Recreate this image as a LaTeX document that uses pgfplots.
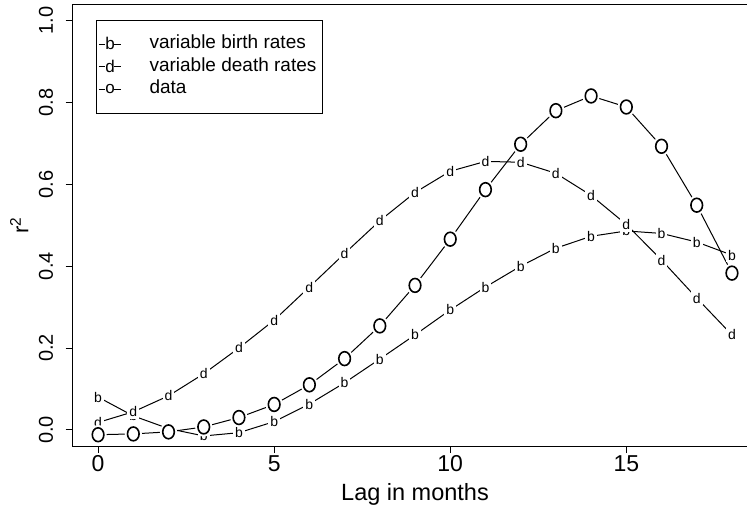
\documentclass[border=0pt]{standalone}
\usepackage{fontspec}
\setmainfont{Liberation Sans}
\usepackage{pgfplots}
\pgfplotsset{compat=1.18}
\pgfdeclareplotmark{Ogap}{%
  \begin{pgfscope}\pgfsetfillcolor{white}%
  \pgfpathellipse{\pgfpointorigin}{\pgfpoint{8.6bp}{0pt}}{\pgfpoint{0pt}{9.8bp}}\pgfusepath{fill}\end{pgfscope}%
  \pgfpathellipse{\pgfpointorigin}{\pgfpoint{5.8bp}{0pt}}{\pgfpoint{0pt}{6.9bp}}\pgfusepath{stroke}}
\newcommand{\legletter}[1]{\draw[line width=1bp] (0bp,0bp)--(6bp,0bp) (15.5bp,0bp)--(22.5bp,0bp);
  \node[anchor=center, inner sep=0pt, text height=, text depth=, font=\fontsize{17bp}{17bp}\selectfont] at (11bp,0.5bp) {#1};}
\begin{document}
\begin{tikzpicture}
\begin{axis}[
  scale only axis,
  width=684.3bp, height=441.7bp,
  xmin=-0.72, xmax=18.72, ymin=-0.04, ymax=1.04,
  axis line style={line width=0.9bp},
  every tick/.style={black, line width=0.9bp},
  tick align=outside, tick pos=left,
  major tick length=7bp,
  xtick={0,5,10,15}, ytick={0,0.2,0.4,0.6,0.8,1.0},
  /pgf/number format/assume math mode=true,
  xticklabel style={font=\fontsize{23bp}{24bp}\selectfont, inner sep=0pt, anchor=north},
  yticklabel style={font=\fontsize{20bp}{24bp}\selectfont, rotate=90, anchor=south, inner sep=0pt,
    /pgf/number format/.cd, fixed, fixed zerofill, precision=1},
  xticklabel shift=2bp,
  yticklabel shift=12.5bp,
  xlabel={Lag in months},
  ylabel={r\textsuperscript{2}},
  every axis x label/.style={at={(axis description cs:0.5,-0.11)}, anchor=center, font=\fontsize{23.5bp}{24bp}\selectfont},
  every axis y label/.style={at={(axis description cs:-0.078,0.5)}, anchor=center, rotate=90, font=\fontsize{22bp}{24bp}\selectfont},
  text mark as node=true,
  legend style={at={(0,1)}, anchor=north west, xshift=23.3bp, yshift=-15.7bp,
    draw=black, line width=0.9bp, inner xsep=2bp, inner ysep=12.5bp,
    font=\fontsize{19bp}{20bp}\selectfont,
    nodes={text height=12.5bp, text depth=3bp, inner sep=3.5bp},
    column sep=24bp},
  legend cell align=left,
]
\addplot[black, line width=1bp, mark=text, text mark={b},
  text mark style={font=\fontsize{14bp}{14bp}\selectfont, fill=white, inner sep=2bp, text height=, text depth=},
  legend image code/.code={\legletter{b}}]
  coordinates {(0,0.080) (1,0.034) (2,0.003) (3,-0.015) (4,-0.007) (5,0.020) (6,0.063) (7,0.115) (8,0.173) (9,0.232) (10,0.293) (11,0.349) (12,0.400) (13,0.444) (14,0.473) (15,0.486) (16,0.480) (17,0.459) (18,0.427)};
\addlegendentry{variable birth rates}
\addplot[black, line width=1bp, mark=text, text mark={d},
  text mark style={font=\fontsize{14bp}{14bp}\selectfont, fill=white, inner sep=2bp, text height=, text depth=},
  legend image code/.code={\legletter{d}}]
  coordinates {(0,0.018) (1,0.044) (2,0.083) (3,0.137) (4,0.200) (5,0.268) (6,0.349) (7,0.431) (8,0.511) (9,0.580) (10,0.632) (11,0.656) (12,0.654) (13,0.627) (14,0.573) (15,0.502) (16,0.415) (17,0.322) (18,0.232)};
\addlegendentry{variable death rates\hspace{5bp}}
\addplot[black, line width=1bp, mark=Ogap,
  mark options={line width=1.6bp},
  legend image code/.code={\legletter{o}}]
  coordinates {(0,-0.012) (1,-0.010) (2,-0.005) (3,0.007) (4,0.030) (5,0.062) (6,0.110) (7,0.174) (8,0.254) (9,0.353) (10,0.466) (11,0.587) (12,0.698) (13,0.780) (14,0.816) (15,0.789) (16,0.693) (17,0.549) (18,0.383)};
\addlegendentry{data}
\end{axis}
\pgfresetboundingbox
\useasboundingbox ([xshift=-72.7bp,yshift=-66bp]current axis.south west) rectangle ([xshift=-10.3bp,yshift=4.3bp]current axis.north east);
\end{tikzpicture}
\end{document}
